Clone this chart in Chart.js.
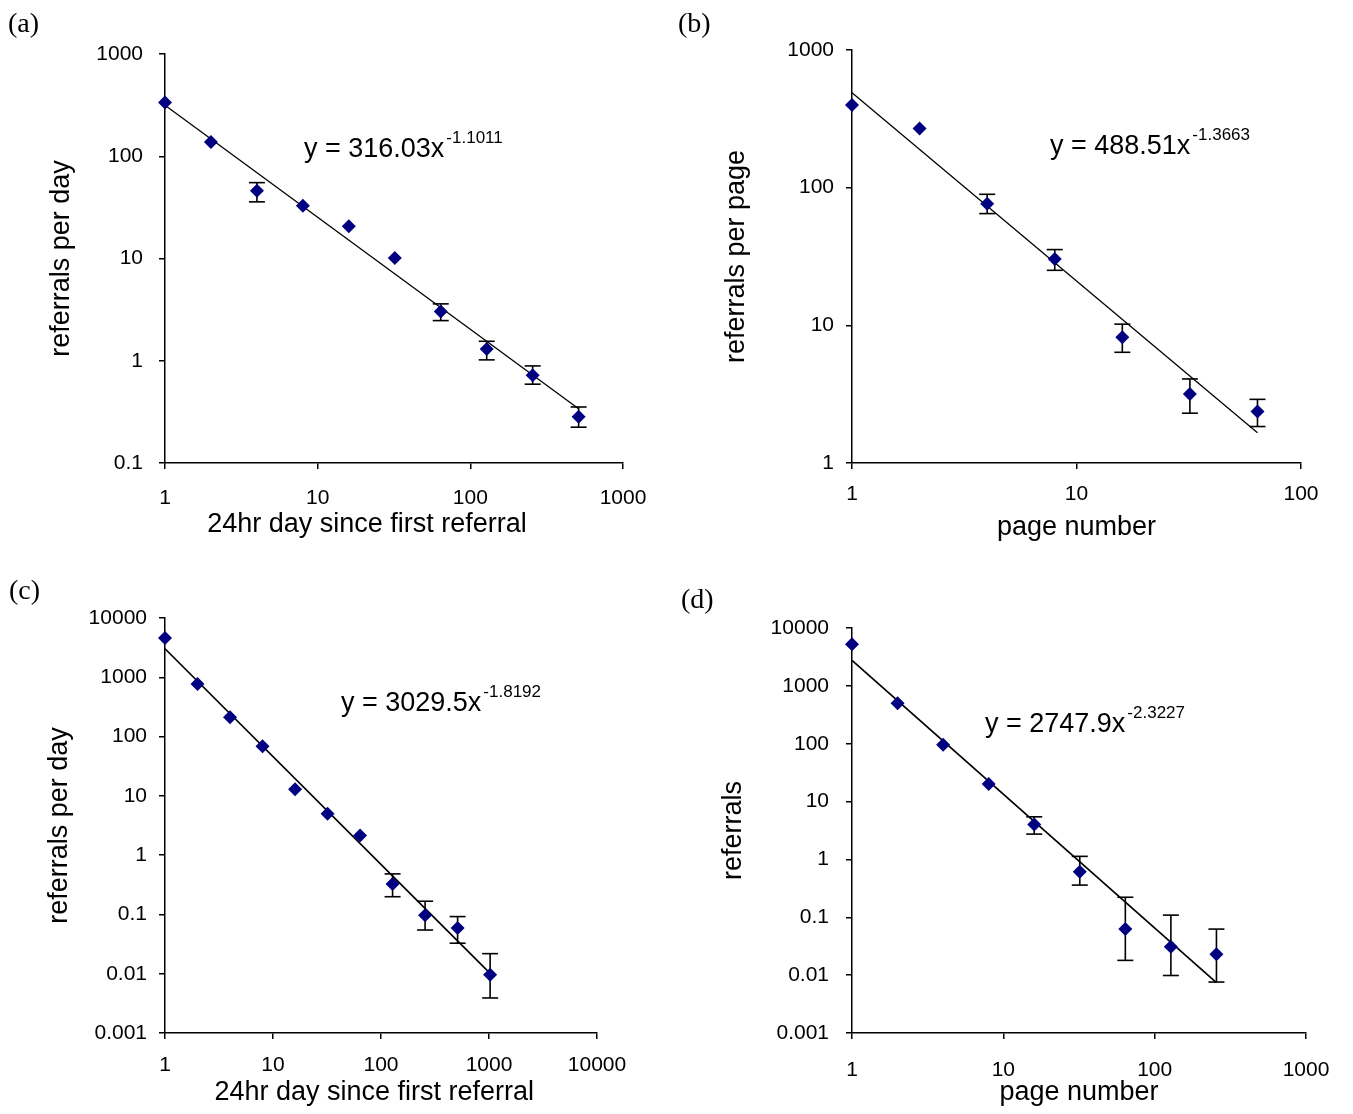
<!DOCTYPE html>
<html>
<head>
<meta charset="utf-8">
<script src="https://cdn.jsdelivr.net/npm/chart.js@4.4.1/dist/chart.umd.min.js"></script>
<style>
  html, body { margin: 0; padding: 0; background: #fff; }
  #fig { position: relative; width: 1353px; height: 1114px; overflow: hidden; font-family: "Liberation Sans", Arial, sans-serif; }
  canvas { position: absolute; }
  .tag { position: absolute; font-family: "Liberation Serif", "Times New Roman", serif; font-size: 28px; line-height: 1; }
  .eq { position: absolute; font-size: 27px; line-height: 1; white-space: nowrap; }
  .eq sup { font-size: 17px; position: relative; top: -14px; vertical-align: baseline; margin-left: 2px; }
</style>
</head>
<body>
<div id="fig">
  <canvas id="c-a" width="676" height="560" style="left:0;top:0"></canvas>
  <canvas id="c-b" width="677" height="560" style="left:676px;top:0"></canvas>
  <canvas id="c-c" width="676" height="554" style="left:0;top:560px"></canvas>
  <canvas id="c-d" width="677" height="554" style="left:676px;top:560px"></canvas>

  <div class="tag" style="left:8px;top:9px">(a)</div>
  <div class="tag" style="left:678px;top:9px">(b)</div>
  <div class="tag" style="left:9px;top:576px">(c)</div>
  <div class="tag" style="left:681px;top:585px">(d)</div>

  <div class="eq" style="left:304px;top:135px">y = 316.03x<sup>-1.1011</sup></div>
  <div class="eq" style="left:1050px;top:132px">y = 488.51x<sup>-1.3663</sup></div>
  <div class="eq" style="left:341px;top:689px">y = 3029.5x<sup>-1.8192</sup></div>
  <div class="eq" style="left:985px;top:710px">y = 2747.9x<sup>-2.3227</sup></div>
</div>
<script>
// (a) referrals per day, by 24hr day
const DAY_A = [1, 2, 4, 8, 16, 32, 64, 128, 256, 512];
const REF_A = [336, 138, 46, 32.8, 20.7, 10.1, 3.03, 1.3, 0.72, 0.283];
const LO_A = [null, null, 35.8, null, null, null, 2.47, 1.02, 0.59, 0.224];
const HI_A = [null, null, 55.2, null, null, null, 3.6, 1.55, 0.89, 0.353];
const FIT_X_A = [1, 512];
const FIT_Y_A = [316, 0.34];

// (b) referrals per page, by page number
const PAGE_B = [1, 2, 4, 8, 16, 32, 64];
const REF_B = [399, 269, 76.4, 30.3, 8.2, 3.17, 2.37];
const LO_B = [null, null, 64.8, 25.1, 6.37, 2.3, 1.84];
const HI_B = [null, null, 89.5, 35.5, 10.2, 4.08, 2.9];
const FIT_X_B = [1, 64];
const FIT_Y_B = [488.5, 1.66];

// (c) referrals per day, by 24hr day
const DAY_C = [1, 2, 4, 8, 16, 32, 64, 128, 256, 512, 1024];
const REF_C = [4580, 774, 212, 68.6, 12.9, 4.97, 2.15, 0.327, 0.097, 0.059, 0.0096];
const LO_C = [null, null, null, null, null, null, null, 0.199, 0.0546, 0.0327, 0.0039];
const HI_C = [null, null, null, null, null, null, null, 0.483, 0.167, 0.092, 0.0218];
const FIT_X_C = [1, 1024];
const FIT_Y_C = [3029.5, 0.0101];

// (d) referrals, by page number
const PAGE_D = [1, 2, 4, 8, 16, 32, 64, 128, 256];
const REF_D = [5230, 502, 96, 20.2, 4.03, 0.61, 0.0625, 0.031, 0.0229];
const LO_D = [null, null, null, null, 2.74, 0.36, 0.018, 0.00986, 0.0076];
const HI_D = [null, null, null, null, 5.45, 1.13, 0.222, 0.109, 0.0625];
const FIT_X_D = [1, 256];
const FIT_Y_D = [2747.9, 0.0074];

// tick labels (decades only)
const TICKS_1_1000 = [1, 10, 100, 1000];
const TICKS_1_100 = [1, 10, 100];
const TICKS_1_10000 = [1, 10, 100, 1000, 10000];
const TICKS_01_1000 = [0.1, 1, 10, 100, 1000];
const TICKS_0001_10000 = [0.001, 0.01, 0.1, 1, 10, 100, 1000, 10000];

const FONT = "'Liberation Sans', Arial, sans-serif";
const INK = "#000";
const NAVY = "#000080";
const TICK_SIZE = 21;
const TITLE_SIZE = 27;

function pairs(xs, ys) {
  return xs.map((x, i) => ({ x, y: ys[i] }));
}

function errorSegments(xs, lo, hi) {
  const pts = [];
  xs.forEach((x, i) => {
    if (lo[i] == null) return;
    pts.push({ x, y: lo[i] }, { x, y: hi[i] }, { x, y: null });
  });
  return pts;
}

function axis(ticks, o) {
  return {
    type: "logarithmic",
    min: ticks[0],
    max: ticks[ticks.length - 1],
    afterBuildTicks: (s) => { s.ticks = ticks.map((v) => ({ value: v })); },
    afterFit: o.fit,
    grid: { drawOnChartArea: false, drawTicks: true, tickLength: 6, color: INK, lineWidth: 1.5 },
    border: { display: true, color: INK, width: 1.5 },
    ticks: {
      autoSkip: false,
      maxRotation: 0,
      padding: o.tickPad,
      color: INK,
      font: { family: FONT, size: TICK_SIZE },
      callback: (v) => String(v),
    },
    title: {
      display: true,
      text: o.title,
      color: INK,
      padding: o.titlePad,
      font: { family: FONT, size: TITLE_SIZE },
    },
  };
}

function makePanel(id, p) {
  const cv = document.getElementById(id);
  const W = cv.width, H = cv.height;
  const halfTitle = TITLE_SIZE * 0.6;
  const halfTick = TICK_SIZE * 0.6;
  const xH = p.xTitleY + halfTitle - p.area.b;
  return new Chart(cv, {
    type: "scatter",
    data: {
      datasets: [
        {
          data: pairs(p.x, p.y),
          pointStyle: "rectRot",
          pointRadius: 7,
          backgroundColor: NAVY,
          borderColor: NAVY,
          borderWidth: 0,
          showLine: false,
          clip: false,
        },
        {
          data: pairs(p.fitX, p.fitY),
          showLine: true,
          borderColor: INK,
          borderWidth: p.fitWidth,
          pointRadius: 0,
          clip: false,
        },
        {
          data: errorSegments(p.x, p.lo, p.hi),
          showLine: true,
          spanGaps: false,
          borderColor: INK,
          borderWidth: 1.6,
          pointStyle: "line",
          pointRadius: 8,
          pointBorderWidth: 1.6,
          pointBorderColor: INK,
          clip: false,
        },
      ],
    },
    options: {
      responsive: false,
      animation: false,
      events: [],
      layout: {
        padding: { left: 0, top: p.area.t, right: W - p.area.r, bottom: H - p.area.b - xH },
      },
      plugins: { legend: { display: false }, tooltip: { enabled: false } },
      scales: {
        x: axis(p.xTicks, {
          title: p.xTitle,
          tickPad: p.xTickY - p.area.b - 6 - halfTick,
          titlePad: 0,
          fit: (s) => { s.height = xH; },
        }),
        y: axis(p.yTicks, {
          title: p.yTitle,
          tickPad: p.yTickPad,
          titlePad: { top: p.yTitleX - halfTitle, bottom: 0 },
          fit: (s) => { s.width = p.area.l; },
        }),
      },
    },
  });
}

makePanel("c-a", {
  x: DAY_A, y: REF_A, lo: LO_A, hi: HI_A, fitX: FIT_X_A, fitY: FIT_Y_A,
  xTicks: TICKS_1_1000, yTicks: TICKS_01_1000,
  xTitle: "24hr day since first referral\u2003\u2003", yTitle: "referrals per day",
  area: { l: 165, r: 623, t: 54, b: 463 },
  xTickY: 498, xTitleY: 525, yTickPad: 16, yTitleX: 62, fitWidth: 1.3,
});

makePanel("c-b", {
  x: PAGE_B, y: REF_B, lo: LO_B, hi: HI_B, fitX: FIT_X_B, fitY: FIT_Y_B,
  xTicks: TICKS_1_100, yTicks: TICKS_1_1000,
  xTitle: "page number", yTitle: "referrals per page",
  area: { l: 176, r: 625, t: 50, b: 463 },
  xTickY: 494, xTitleY: 528, yTickPad: 12, yTitleX: 61, fitWidth: 1.3,
});

makePanel("c-c", {
  x: DAY_C, y: REF_C, lo: LO_C, hi: HI_C, fitX: FIT_X_C, fitY: FIT_Y_C,
  xTicks: TICKS_1_10000, yTicks: TICKS_0001_10000,
  xTitle: "24hr day since first referral\u2002", yTitle: "referrals per day",
  area: { l: 165, r: 597, t: 58, b: 473 },
  xTickY: 505, xTitleY: 533, yTickPad: 12, yTitleX: 60, fitWidth: 1.7,
});

makePanel("c-d", {
  x: PAGE_D, y: REF_D, lo: LO_D, hi: HI_D, fitX: FIT_X_D, fitY: FIT_Y_D,
  xTicks: TICKS_1_1000, yTicks: TICKS_0001_10000,
  xTitle: "page number", yTitle: "referrals",
  area: { l: 176, r: 630, t: 68, b: 473 },
  xTickY: 510, xTitleY: 533, yTickPad: 17, yTitleX: 58, fitWidth: 1.7,
});
</script>
</body>
</html>
